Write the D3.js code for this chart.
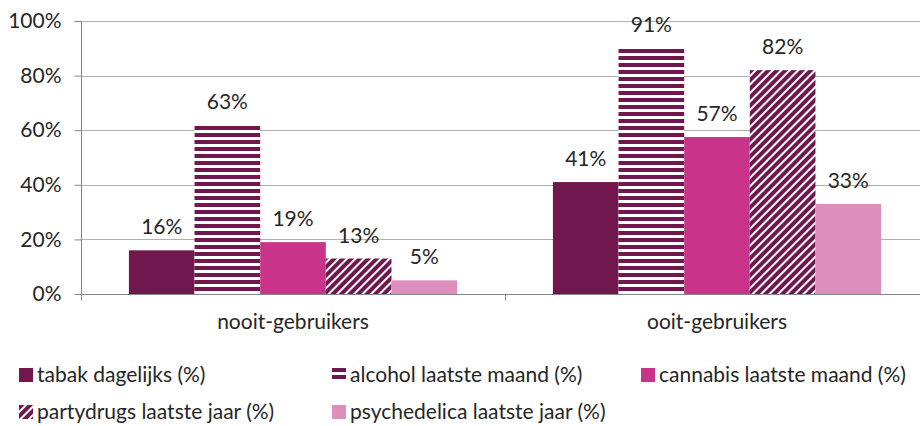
<!DOCTYPE html>
<html>
<head>
<meta charset="utf-8">
<script src="https://cdn.jsdelivr.net/npm/d3@7"></script>
<style>
  body { margin: 0; background: #fff; }
  svg { display: block; }
  text { font-family: Lato, "Open Sans", sans-serif; fill: #262626; }
</style>
</head>
<body>
<svg id="chart" width="920" height="426"></svg>
<script>
/* ---------------- data ---------------- */
const groups = ['nooit-gebruikers', 'ooit-gebruikers'];
const series = ['tabak dagelijks (%)', 'alcohol laatste maand (%)', 'cannabis laatste maand (%)',
                'partydrugs laatste jaar (%)', 'psychedelica laatste jaar (%)'];
const nooitValues = [0.16, 0.62, 0.19, 0.13, 0.05];
const ooitValues  = [0.41, 0.90, 0.575, 0.82, 0.33];
const nooitLabels = ['16%', '63%', '19%', '13%', '5%'];
const ooitLabels  = ['41%', '91%', '57%', '82%', '33%'];
const yTicks = [0, 0.2, 0.4, 0.6, 0.8, 1];

const PLUM = '#70184d';
const fills = ['#70184d', 'url(#hstripe)', '#c9348a', 'url(#dstripe)', '#df8fbe'];
const FS = 21;

const rows = groups.map((g, i) => ({
  group: g,
  values: (i === 0 ? nooitValues : ooitValues).map((v, j) => ({
    key: series[j], value: v, label: (i === 0 ? nooitLabels : ooitLabels)[j], idx: j
  }))
}));

/* ---------------- setup ---------------- */
const svg = d3.select('#chart');
const LEFT = 81, TOP = 21, BOTTOM = 294, RIGHT = 929;

const defs = svg.append('defs');
const hs = defs.append('pattern').attr('id', 'hstripe')
  .attr('patternUnits', 'userSpaceOnUse').attr('width', 8).attr('height', 7);
hs.append('rect').attr('width', 8).attr('height', 7).attr('fill', '#fff');
hs.append('rect').attr('width', 8).attr('height', 4).attr('fill', PLUM);

const ds = defs.append('pattern').attr('id', 'dstripe')
  .attr('patternUnits', 'userSpaceOnUse').attr('width', 6).attr('height', 6)
  .attr('patternTransform', 'rotate(45)');
ds.append('rect').attr('width', 6).attr('height', 6).attr('fill', '#fff');
ds.append('rect').attr('width', 4).attr('height', 6).attr('fill', PLUM);

const x0 = d3.scaleBand().domain(groups).range([LEFT, RIGHT]).padding(0);
const x1 = d3.scaleBand().domain(series).range([0, x0.bandwidth()])
  .paddingInner(0).paddingOuter(0.73);
const y = d3.scaleLinear().domain([0, 1]).range([BOTTOM, TOP]);

// gridlines
svg.append('g').selectAll('line').data(yTicks.slice(1)).join('line')
  .attr('x1', LEFT).attr('x2', 920)
  .attr('y1', d => Math.round(y(d)) + 0.5).attr('y2', d => Math.round(y(d)) + 0.5)
  .attr('stroke', '#b0b0b0').attr('stroke-width', 1);

// y axis
const yAxis = svg.append('g').attr('transform', `translate(${LEFT + 0.5},0)`)
  .call(d3.axisLeft(y).tickValues(yTicks).tickFormat(d3.format('.0%')).tickSize(7).tickPadding(13));
yAxis.select('.domain').attr('stroke', '#868686').attr('d', `M-7,${TOP + 0.5}H0V${BOTTOM + 0.5}`);
yAxis.selectAll('.tick line').attr('stroke', '#868686');
yAxis.selectAll('.tick text').attr('font-size', FS).attr('fill', '#262626')
  .attr('font-family', 'Lato, sans-serif');

// bars
const g = svg.append('g').selectAll('g').data(rows).join('g')
  .attr('transform', d => `translate(${x0(d.group)},0)`);

g.selectAll('rect').data(d => d.values).join('rect')
  .attr('x', d => x1(d.key))
  .attr('width', x1.bandwidth())
  .attr('y', d => y(d.value))
  .attr('height', d => BOTTOM - y(d.value))
  .attr('fill', d => fills[d.idx]);

g.selectAll('text').data(d => d.values).join('text')
  .attr('x', d => x1(d.key) + x1.bandwidth() / 2)
  .attr('y', d => y(d.value) - 16)
  .attr('text-anchor', 'middle')
  .attr('font-size', FS)
  .text(d => d.label);

// x axis
const xAxis = svg.append('g').attr('transform', `translate(0,${BOTTOM + 0.5})`);
xAxis.append('line').attr('x1', LEFT).attr('x2', 920).attr('stroke', '#868686');
xAxis.selectAll('line.tk').data([LEFT, x0(groups[1]), RIGHT]).join('line')
  .attr('class', 'tk')
  .attr('x1', d => d + 0.5).attr('x2', d => d + 0.5).attr('y1', 0).attr('y2', 6)
  .attr('stroke', '#868686');
xAxis.selectAll('text').data(groups).join('text')
  .attr('x', d => x0(d) + x0.bandwidth() / 2)
  .attr('y', 34)
  .attr('text-anchor', 'middle')
  .attr('font-size', FS)
  .text(d => d);

// legend
const legendPos = [[19, 368], [332, 368], [641, 368], [19, 405], [332, 405]];
const leg = svg.append('g').selectAll('g').data(series).join('g')
  .attr('transform', (d, i) => `translate(${legendPos[i][0]},${legendPos[i][1]})`);
leg.append('rect').attr('width', 14).attr('height', 14).attr('fill', (d, i) => fills[i]);
leg.append('text').attr('x', 18).attr('y', 14).attr('font-size', FS).text(d => d);
</script>
</body>
</html>
